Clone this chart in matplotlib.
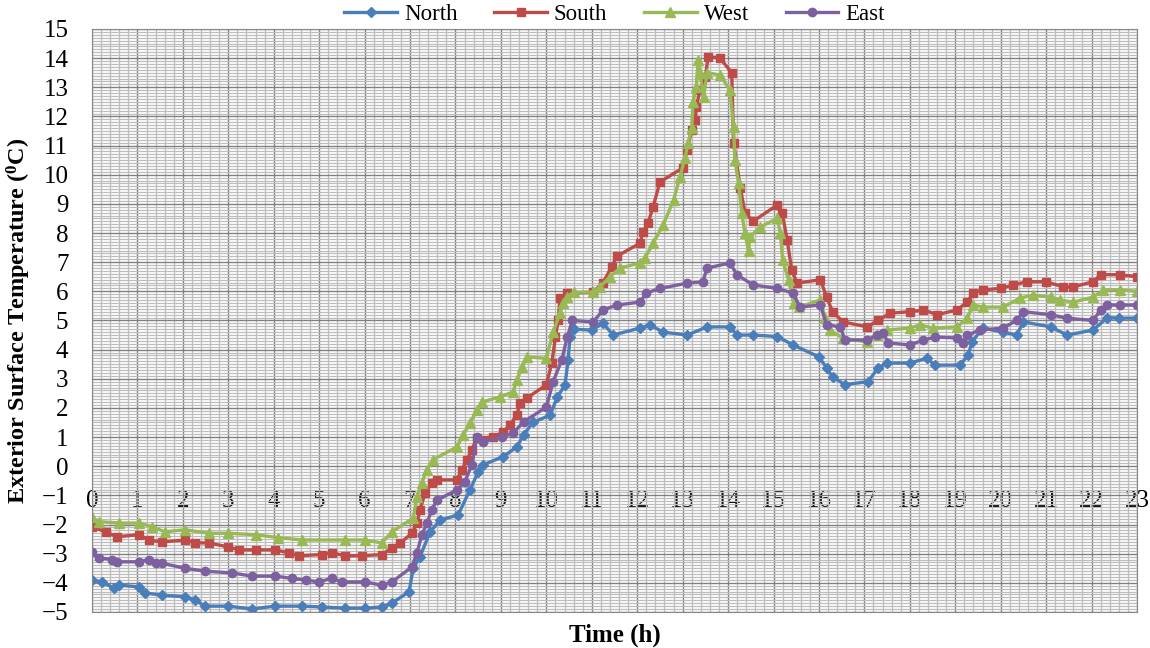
import matplotlib.pyplot as plt
import numpy as np
from matplotlib.ticker import MultipleLocator

plt.rcParams['font.family'] = ['Liberation Serif', 'DejaVu Serif']
plt.rcParams['mathtext.fontset'] = 'custom'
plt.rcParams['mathtext.rm'] = 'Liberation Serif'
plt.rcParams['mathtext.bf'] = 'Liberation Serif:bold'

# North wall
north_t = [0, 0.22, 0.48, 0.6, 1.03, 1.17, 1.54, 2.05, 2.26, 2.48, 3.0, 3.52, 4.03, 4.62, 5.06, 5.57, 6.0, 6.38, 6.6,
           6.98, 7.07, 7.22, 7.44, 7.66, 8.06, 8.32, 8.5, 8.6, 9.05, 9.35, 9.5, 9.7, 10.08, 10.24, 10.41, 10.48, 10.52,
           10.6, 11.0, 11.25, 11.47, 12.06, 12.28, 12.57, 13.1, 13.54, 14.04, 14.2, 14.55, 15.08, 15.43, 16.0, 16.17,
           16.3, 16.57, 17.08, 17.3, 17.5, 18.0, 18.37, 18.56, 19.1, 19.28, 19.37, 19.6, 20.05, 20.35, 20.5, 21.1,
           21.46, 22.03, 22.35, 22.6, 23.0]
north_T = [-3.9, -3.97, -4.18, -4.08, -4.14, -4.35, -4.42, -4.48, -4.58, -4.8, -4.8, -4.9, -4.8, -4.8, -4.83, -4.87,
           -4.87, -4.83, -4.7, -4.3, -3.5, -3.1, -2.26, -1.85, -1.67, -0.8, -0.2, 0.04, 0.33, 0.66, 1.07, 1.5, 1.75,
           2.37, 2.78, 3.65, 4.43, 4.7, 4.67, 4.9, 4.5, 4.74, 4.85, 4.6, 4.5, 4.78, 4.78, 4.5, 4.5, 4.45, 4.16, 3.75,
           3.37, 3.06, 2.8, 2.9, 3.37, 3.54, 3.54, 3.7, 3.47, 3.47, 3.8, 4.26, 4.74, 4.6, 4.5, 4.95, 4.78, 4.5, 4.67,
           5.1, 5.08, 5.08]

# South wall
south_t = [0, 0.3, 0.55, 1.03, 1.25, 1.54, 2.05, 2.27, 2.57, 3.0, 3.24, 3.6, 4.03, 4.34, 4.55, 5.07, 5.28, 5.57, 5.95,
           6.38, 6.6, 6.78, 7.04, 7.15, 7.22, 7.33, 7.48, 7.59, 8.03, 8.14, 8.25, 8.36, 8.47, 8.83, 9.05, 9.2, 9.35,
           9.42, 9.57, 10.0, 10.12, 10.2, 10.26, 10.3, 10.46, 11.03, 11.25, 11.44, 11.55, 12.06, 12.13, 12.24, 12.35,
           12.5, 13.0, 13.1, 13.2, 13.28, 13.3, 13.38, 13.5, 13.56, 13.82, 14.08, 14.12, 14.27, 14.37, 14.55, 15.08,
           15.19, 15.3, 15.4, 15.52, 16.03, 16.17, 16.3, 16.53, 17.06, 17.3, 17.56, 18.0, 18.3, 18.6, 19.04, 19.26,
           19.4, 19.6, 20.0, 20.28, 20.58, 21.0, 21.38, 21.6, 22.03, 22.2, 22.63, 23.0]
south_T = [-2.08, -2.25, -2.42, -2.35, -2.53, -2.6, -2.53, -2.63, -2.63, -2.77, -2.87, -2.87, -2.87, -2.97, -3.07,
           -3.03, -2.97, -3.07, -3.07, -3.03, -2.8, -2.64, -2.3, -1.95, -1.5, -0.92, -0.57, -0.47, -0.47, -0.13, 0.22,
           0.56, 0.97, 1.0, 1.18, 1.42, 1.76, 2.17, 2.34, 2.79, 3.54, 4.43, 5.0, 5.77, 5.94, 5.97, 6.3, 6.85, 7.2,
           7.65, 8.03, 8.34, 8.9, 9.75, 10.23, 10.85, 11.54, 11.88, 12.33, 12.9, 13.35, 14.04, 14.0, 13.5, 11.1, 9.55,
           8.7, 8.4, 8.96, 8.7, 7.76, 6.73, 6.28, 6.4, 5.8, 5.3, 4.95, 4.78, 5.0, 5.25, 5.3, 5.36, 5.2, 5.36, 5.63,
           5.94, 6.05, 6.1, 6.22, 6.33, 6.33, 6.15, 6.15, 6.33, 6.57, 6.57, 6.5]

# West wall
west_t = [0, 0.15, 0.6, 1.03, 1.32, 1.6, 2.05, 2.57, 3.0, 3.6, 4.1, 4.62, 5.57, 6.0, 6.38, 6.6, 7.07, 7.15, 7.26, 7.37,
          7.5, 8.03, 8.17, 8.32, 8.47, 8.58, 8.98, 9.27, 9.35, 9.47, 9.57, 10.0, 10.15, 10.3, 10.37, 10.46, 10.6,
          11.03, 11.18, 11.4, 11.62, 12.06, 12.17, 12.35, 12.57, 12.8, 12.94, 13.05, 13.12, 13.2, 13.23, 13.3, 13.34,
          13.38, 13.46, 13.54, 13.82, 14.04, 14.12, 14.15, 14.23, 14.3, 14.37, 14.45, 14.48, 14.7, 15.08, 15.15,
          15.2, 15.33, 15.44, 15.55, 16.03, 16.13, 16.24, 16.53, 17.06, 17.28, 17.5, 18.0, 18.23, 18.5, 19.04, 19.26,
          19.4, 19.6, 20.05, 20.43, 20.72, 21.1, 21.3, 21.6, 22.03, 22.26, 22.63, 23.0]
west_T = [-1.75, -1.9, -1.95, -1.95, -2.07, -2.25, -2.18, -2.3, -2.3, -2.35, -2.45, -2.53, -2.53, -2.53, -2.63, -2.25,
          -1.78, -1.06, -0.57, -0.13, 0.22, 0.66, 1.07, 1.48, 1.93, 2.2, 2.38, 2.55, 2.96, 3.4, 3.75, 3.7, 4.6, 5.25,
          5.6, 5.8, 5.97, 5.97, 6.15, 6.5, 6.8, 6.97, 7.14, 7.65, 8.27, 9.13, 9.92, 10.57, 11.08, 11.6, 12.5, 13.0,
          13.94, 13.48, 12.67, 13.5, 13.42, 12.9, 11.64, 10.5, 9.72, 8.7, 8.0, 7.4, 7.86, 8.2, 8.5, 8.0, 7.08, 6.4,
          5.6, 5.46, 5.7, 5.1, 4.67, 4.4, 4.26, 4.5, 4.67, 4.74, 4.85, 4.74, 4.78, 5.08, 5.53, 5.46, 5.46, 5.77, 5.87,
          5.8, 5.7, 5.63, 5.8, 6.05, 6.05, 6.0]

# East wall
east_t = [0, 0.15, 0.44, 0.55, 1.03, 1.25, 1.4, 1.54, 2.05, 2.48, 3.08, 3.52, 4.03, 4.4, 4.7, 5.0, 5.28, 5.5, 6.0,
          6.38, 6.6, 7.04, 7.15, 7.26, 7.37, 7.48, 7.59, 8.03, 8.2, 8.36, 8.47, 8.6, 9.02, 9.27, 9.5, 10.0, 10.15,
          10.34, 10.46, 10.57, 11.03, 11.25, 11.55, 12.06, 12.2, 12.5, 13.1, 13.44, 13.54, 14.04, 14.2, 14.55, 15.08,
          15.43, 15.58, 16.03, 16.17, 16.47, 16.57, 17.06, 17.28, 17.42, 17.52, 18.0, 18.3, 18.56, 19.04, 19.17,
          19.26, 19.55, 20.05, 20.35, 20.5, 21.1, 21.46, 22.03, 22.2, 22.35, 22.63, 23.0]
east_T = [-2.93, -3.14, -3.2, -3.28, -3.28, -3.2, -3.33, -3.33, -3.5, -3.6, -3.66, -3.77, -3.77, -3.85, -3.9, -3.97,
          -3.84, -3.97, -3.97, -4.08, -3.97, -3.46, -2.98, -2.36, -1.95, -1.5, -1.16, -0.82, -0.55, 0.04, 1.0, 0.83,
          1.0, 1.14, 1.52, 2.03, 2.9, 3.65, 4.43, 5.0, 4.95, 5.36, 5.53, 5.63, 5.94, 6.1, 6.28, 6.32, 6.8, 6.97, 6.56,
          6.22, 6.1, 5.94, 5.46, 5.53, 4.85, 4.78, 4.33, 4.33, 4.5, 4.57, 4.23, 4.16, 4.33, 4.43, 4.4, 4.23, 4.5,
          4.67, 4.74, 5.0, 5.3, 5.2, 5.08, 5.0, 5.36, 5.53, 5.53, 5.53]

hours = list(range(0, 24))

fig = plt.figure(figsize=(11.5, 6.48), dpi=100)
ax = fig.add_axes([0.08, 0.0556, 0.9087, 0.8997])

ax.plot(north_t, north_T, color='#4A7EBB', lw=2.4, marker='D', ms=5, label='North')
ax.plot(south_t, south_T, color='#BE4B48', lw=2.4, marker='s', ms=6, label='South')
ax.plot(west_t, west_T, color='#98B954', lw=2.4, marker='^', ms=6.5, label='West')
ax.plot(east_t, east_T, color='#7D60A0', lw=2.4, marker='o', ms=6, label='East')

ax.set_xlim(0, 23)
ax.set_ylim(-5, 15)
ax.xaxis.set_major_locator(MultipleLocator(1))
ax.xaxis.set_minor_locator(MultipleLocator(0.2))
ax.yaxis.set_major_locator(MultipleLocator(1))
ax.yaxis.set_minor_locator(MultipleLocator(0.1))
ax.grid(which='major', color='#808080', lw=1.0)
ax.grid(which='minor', color='#bdbdbd', lw=0.9)
ax.set_axisbelow(True)
for s in ax.spines.values():
    s.set_color('#878787')

ax.tick_params(axis='x', which='both', length=0, labelbottom=False)
ax.tick_params(axis='y', which='both', length=0, labelsize=18, pad=17)

# hour labels sit on the -1 gridline like the original
sec = ax.secondary_xaxis(0.21)
sec.set_xticks(hours)
sec.set_xticklabels([str(h) for h in hours])
sec.tick_params(length=0, labelsize=18, pad=0)
sec.spines['bottom'].set_visible(False)

ax.set_xlabel('Time (h)', fontsize=18, fontweight='bold', labelpad=8)
ax.set_ylabel(r'Exterior Surface Temperature ($\mathbf{^{0}}$C)', fontsize=17.5, fontweight='bold')
ax.yaxis.set_label_coords(-0.056, 0.5)

ax.legend(loc='center', bbox_to_anchor=(0.5, 1.024), ncol=4, frameon=False, fontsize=16.5,
          handlelength=2.3, columnspacing=1.6, handletextpad=0.3, borderaxespad=0)

plt.savefig('out.png', dpi=100)
